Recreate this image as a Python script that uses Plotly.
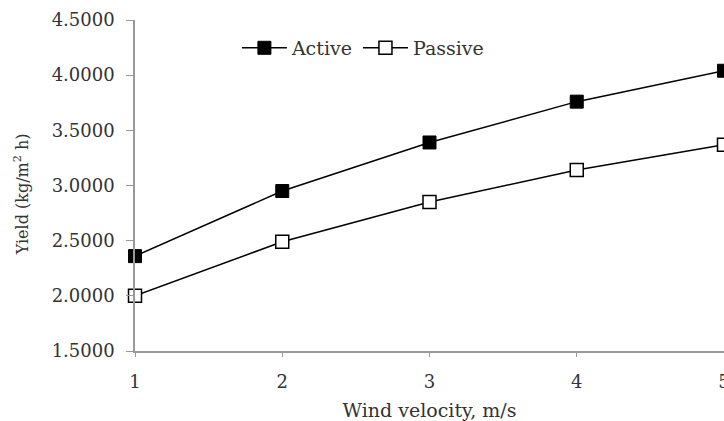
import plotly.graph_objects as go

wind_velocity = [1, 2, 3, 4, 5]
active_yield = [2.36, 2.95, 3.39, 3.76, 4.04]
passive_yield = [2.00, 2.49, 2.85, 3.14, 3.37]

font_family = "DejaVu Serif"

fig = go.Figure()
fig.add_trace(go.Scatter(
    x=wind_velocity, y=active_yield, name="Active", mode="lines+markers",
    line=dict(color="black", width=1.5),
    marker=dict(symbol="square", size=13, color="black", line=dict(color="black", width=1)),
    cliponaxis=False,
))
fig.add_trace(go.Scatter(
    x=wind_velocity, y=passive_yield, name="Passive", mode="lines+markers",
    line=dict(color="black", width=1.5),
    marker=dict(symbol="square", size=13, color="white", line=dict(color="black", width=1.5)),
    cliponaxis=False,
))

fig.update_layout(
    width=724, height=421,
    margin=dict(l=135, r=0, t=20, b=70, autoexpand=False),
    paper_bgcolor="white", plot_bgcolor="white",
    font=dict(family=font_family, size=18, color="#333"),
    showlegend=True,
    legend=dict(orientation="h", x=0.173, y=0.973, xanchor="left", yanchor="top",
                font=dict(size=19, color="#333"), bgcolor="rgba(0,0,0,0)",
                itemwidth=45, tracegroupgap=0),
    xaxis=dict(range=[1, 5], tickvals=wind_velocity, showline=True, linecolor="#999",
               linewidth=1.5, ticks="outside", ticklen=4, tickcolor="#999", showgrid=False,
               zeroline=False, ticklabelstandoff=10, ticklabeloverflow="allow",
               automargin=False,
               title=dict(text="Wind velocity, m/s", standoff=14, font=dict(size=19)),
               tickfont=dict(size=18)),
    yaxis=dict(range=[1.5, 4.5], dtick=0.5, tick0=1.5, tickformat=".4f", showline=True,
               linecolor="#999", linewidth=1.5, ticks="outside", ticklen=7, tickcolor="#999",
               showgrid=False, zeroline=False, ticklabelstandoff=8, automargin=False,
               tickfont=dict(size=18)),
    annotations=[dict(text="Yield (kg/m<sup>2</sup> h)", textangle=-90, xref="paper", yref="paper",
                      x=-0.192, y=0.473, xanchor="center", yanchor="middle", showarrow=False,
                      font=dict(size=16, color="#333"))],
)

fig.write_html(
    "out.html",
    config={"displayModeBar": False},
    post_script="document.body.style.margin='0';document.body.style.overflow='hidden';",
)
